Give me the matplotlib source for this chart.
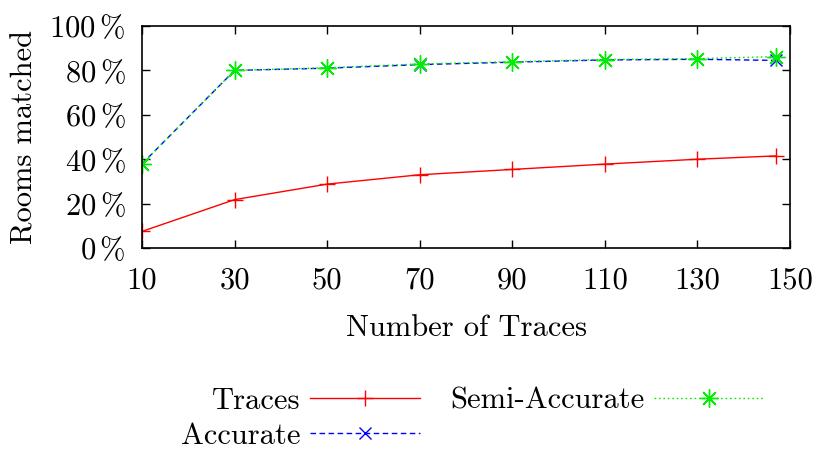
import matplotlib
matplotlib.use('Agg')
import matplotlib.pyplot as plt
from matplotlib.ticker import FuncFormatter

plt.rcParams['font.family'] = 'cmr10'
plt.rcParams['mathtext.fontset'] = 'cm'
plt.rcParams['axes.unicode_minus'] = False

# data
traces_x = [10, 30, 50, 70, 90, 110, 130, 147]
traces = [7.5, 21.8, 28.8, 33.0, 35.4, 37.8, 40.0, 41.5]
accurate = [37.9, 80.0, 81.0, 82.6, 83.7, 84.7, 85.0, 84.5]
semi_accurate = [38.0, 80.0, 81.2, 82.9, 83.9, 84.9, 85.3, 86.2]
x_ticks = [10, 30, 50, 70, 90, 110, 130, 150]
y_ticks = [0, 20, 40, 60, 80, 100]

fig = plt.figure(figsize=(8.19, 4.51), dpi=100)
ax = fig.add_axes([0.1734, 0.45, 0.7912, 0.4924])

fs = 22
l1, = ax.plot(traces_x, traces, color='red', lw=1, ls='-', marker='+', ms=12, mew=1, label='Traces')
l2, = ax.plot(traces_x, accurate, color='blue', lw=1, ls=(0, (4, 2.5)), marker='x', ms=9, mew=1, label='Accurate')
l3, = ax.plot(traces_x, semi_accurate, color='#00ee00', lw=1, ls=(0, (1.2, 2)), marker=(8, 2, 0), ms=13, mew=1, label='Semi-Accurate')

ax.set_xlim(10, 150)
ax.set_ylim(0, 100)
ax.set_xticks(x_ticks)
ax.set_yticks(y_ticks)
ax.yaxis.set_major_formatter(FuncFormatter(lambda v, p: r'$\mathrm{%d}\,\%%$' % v))
ax.tick_params(direction='in', length=6, width=1, top=True, right=True, labelsize=fs)
ax.tick_params(axis='x', pad=14)
ax.tick_params(axis='y', pad=12)
for s in ax.spines.values():
    s.set_linewidth(1.2)

ax.set_xlabel('Number of Traces', fontsize=fs, labelpad=14)
ax.set_ylabel('Rooms matched', fontsize=fs, labelpad=8)

fig.legend(handles=[l1, l2, l3], ncol=2, markerfirst=False, frameon=False, fontsize=fs,
           loc='center', bbox_to_anchor=(0.577, 0.072), handlelength=3.6,
           columnspacing=1.0, labelspacing=0.25, handletextpad=0.3)

fig.savefig('out.png', dpi=100)
